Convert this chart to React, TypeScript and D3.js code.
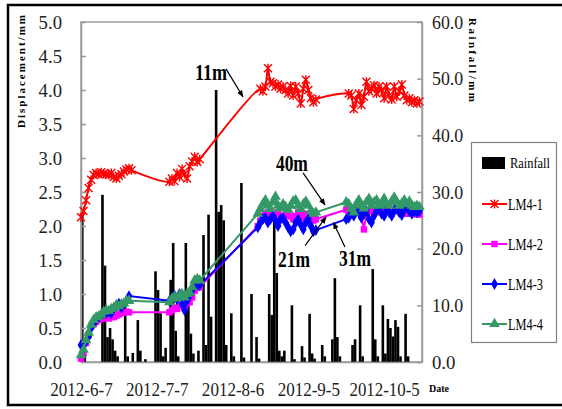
import React, { useEffect, useRef } from 'react';
import * as d3 from 'd3';

// time span of the chart (days counted from 2012-6-7)
const startDate = new Date(2012, 5, 7);
const endDate = new Date(2012, 9, 20);
const tickDates = ['2012-6-7', '2012-7-7', '2012-8-6', '2012-9-5', '2012-10-5'];
const dispTicks = [0, 0.5, 1, 1.5, 2, 2.5, 3, 3.5, 4, 4.5, 5];
const rainTicks = [0, 10, 20, 30, 40, 50, 60];

// daily rainfall (mm)
const rainDays = [0, 1, 8, 9, 10, 11, 12, 13, 14, 17, 18, 20, 22, 23, 25, 29, 30, 31, 32, 33, 35, 36, 37, 38, 41, 42, 43, 44, 46, 48, 49, 50, 51, 53, 54, 55, 56, 57, 59, 60, 63, 64, 67, 69, 70, 74, 75, 76, 77, 78, 79, 80, 83, 84, 87, 88, 90, 91, 92, 95, 96, 99, 100, 101, 102, 107, 108, 110, 111, 115, 116, 117, 119, 120, 121, 122, 123, 124, 125, 126, 128, 129];
const rainMm = [26, 1.5, 29.5, 17, 4.4, 6, 4, 2, 1, 10, 1, 1.6, 7.4, 2, 0.5, 16, 12.7, 8.6, 1, 2.5, 14.5, 21, 5.5, 1, 21, 11, 5, 1.5, 2, 22.4, 3, 26, 8, 48, 26.5, 27.7, 25, 3, 8.6, 1, 31.6, 0.8, 12, 4.4, 0.6, 12, 8.3, 26, 15.7, 2, 1, 2, 10, 0.5, 2.8, 0.8, 8.5, 1.5, 0.6, 3, 1, 4, 14.8, 4.4, 1, 3, 4, 10, 1, 16.4, 4, 1, 10, 1.5, 7.6, 6, 4.5, 7.4, 6.2, 1, 8.5, 1];

// displacement (mm)
const lm41Days = [...d3.range(0, 21), ...d3.range(35, 48), ...d3.range(71, 94), ...d3.range(106, 135)];
const lm41 = [
  2.13, 2.22, 2.38, 2.56, 2.68, 2.75, 2.78, 2.76, 2.79, 2.77, 2.76, 2.75, 2.78, 2.72, 2.70, 2.74, 2.76, 2.80, 2.83, 2.85, 2.82,
  2.65, 2.70, 2.66, 2.78, 2.72, 2.84, 2.76, 2.70, 2.88, 2.95, 3.02, 2.94, 2.98,
  4.02, 3.98, 4.05, 4.32, 4.12, 4.10, 4.05, 4.08, 4.02, 4.05, 4.00, 3.95, 4.06, 3.92, 4.05, 3.95, 3.80, 4.02, 4.15, 4.00, 3.88, 3.82, 3.86,
  3.95, 3.92, 3.72, 3.85, 3.95, 3.78, 3.90, 4.12, 3.98, 4.02, 4.07, 3.95, 4.05, 4.00, 3.88, 4.05, 3.92, 3.86, 4.05, 3.90, 3.98, 4.08, 3.92, 3.85, 3.88, 3.82, 3.85, 3.80, 3.83,
];
const gaugeDays = [...d3.range(0, 20), ...d3.range(35, 48), ...d3.range(70, 94), ...d3.range(105, 135)];
const lm42 = [
  0.05, 0.13, 0.28, 0.40, 0.52, 0.56, 0.59, 0.62, 0.64, 0.64, 0.65, 0.64, 0.66, 0.66, 0.68, 0.70, 0.72, 0.73, 0.74, 0.73,
  0.73, 0.76, 0.80, 0.78, 0.82, 0.84, 0.80, 0.86, 0.88, 0.95, 1.05, 1.09, 1.10,
  2.00, 2.08, 2.15, 2.18, 2.20, 2.16, 2.12, 2.18, 2.20, 2.15, 2.12, 2.16, 2.20, 2.14, 2.10, 2.15, 2.20, 2.16, 2.12, 2.18, 2.14, 2.10, 2.08, 2.10,
  2.24, 2.22, 2.18, 2.22, 2.26, 2.20, 2.15, 1.95, 2.18, 2.22, 2.25, 2.20, 2.24, 2.26, 2.20, 2.23, 2.28, 2.24, 2.20, 2.25, 2.28, 2.22, 2.26, 2.20, 2.18, 2.22, 2.20, 2.18, 2.17, 2.17,
];
const lm43 = [
  0.25, 0.25, 0.30, 0.37, 0.50, 0.57, 0.62, 0.66, 0.70, 0.72, 0.72, 0.74, 0.72, 0.78, 0.82, 0.86, 0.80, 0.85, 0.90, 0.97,
  0.90, 0.94, 0.98, 0.92, 1.00, 0.85, 0.76, 0.90, 0.98, 1.05, 1.16, 1.14, 1.13,
  1.98, 2.05, 2.10, 2.12, 2.05, 2.10, 2.15, 2.08, 2.00, 2.10, 2.12, 2.05, 1.98, 1.92, 1.95, 2.05, 2.10, 2.02, 1.95, 2.05, 2.10, 2.00, 1.92, 1.94,
  2.10, 2.12, 2.20, 2.15, 2.25, 2.20, 2.12, 2.18, 2.22, 2.10, 2.05, 2.15, 2.22, 2.26, 2.18, 2.15, 2.25, 2.20, 2.15, 2.22, 2.28, 2.20, 2.16, 2.24, 2.30, 2.22, 2.18, 2.22, 2.20, 2.22,
];
const lm44 = [
  0.10, 0.18, 0.32, 0.43, 0.55, 0.62, 0.66, 0.67, 0.70, 0.74, 0.76, 0.75, 0.78, 0.80, 0.84, 0.82, 0.85, 0.86, 0.90, 0.90,
  0.88, 0.93, 0.96, 0.94, 0.98, 1.00, 0.95, 1.00, 1.02, 1.10, 1.20, 1.22, 1.20,
  2.18, 2.25, 2.32, 2.38, 2.30, 2.25, 2.35, 2.43, 2.30, 2.26, 2.32, 2.28, 2.24, 2.30, 2.36, 2.38, 2.30, 2.25, 2.32, 2.36, 2.30, 2.22, 2.18, 2.20,
  2.35, 2.32, 2.25, 2.20, 2.32, 2.38, 2.30, 2.26, 2.35, 2.40, 2.30, 2.35, 2.38, 2.30, 2.33, 2.40, 2.32, 2.30, 2.36, 2.42, 2.35, 2.30, 2.33, 2.38, 2.32, 2.36, 2.30, 2.28, 2.30, 2.28,
];

// depth labels with arrows, in (day, displacement) units
const notes = [
  { label: '11m', at: [51.5, 4.15], from: [57.4, 4.31], to: [64.1, 3.9] },
  { label: '40m', at: [83.5, 2.81], from: [87.9, 2.78], to: [96.6, 2.31] },
  { label: '21m', at: [84.3, 1.4], from: [88.7, 1.71], to: [97.0, 2.13] },
  { label: '31m', at: [108.5, 1.41], from: [104.5, 1.69], to: [99.9, 2.05] },
];

const serif = "'Liberation Serif', 'Times New Roman', serif";
const starPath = 'M-4,-4L4,4M-4,4L4,-4M0,-4.5L0,4.5';

const App = () => {
  const ref = useRef<SVGSVGElement>(null);

  useEffect(() => {
    const svg = d3.select(ref.current);
    svg.selectAll('*').remove();

    const plot = { left: 81, right: 422, top: 22, bottom: 362 };
    const dayToDate = (d: number) => new Date(startDate.getTime() + d * 864e5);
    const parse = d3.timeParse('%Y-%m-%d');

    const x = d3.scaleTime().domain([startDate, endDate]).range([plot.left, plot.right]);
    const yL = d3.scaleLinear().domain([0, 5]).range([plot.bottom, plot.top]);
    const yR = d3.scaleLinear().domain([0, 60]).range([plot.bottom, plot.top]);

    svg.append('rect').attr('width', 562).attr('height', 409).attr('fill', '#fff');
    svg.append('rect')
      .attr('x', 8).attr('y', 5).attr('width', 600).attr('height', 400)
      .attr('fill', 'none').attr('stroke', '#000').attr('stroke-width', 2.5);

    const defs = svg.append('defs');
    defs.append('marker')
      .attr('id', 'arrow').attr('viewBox', '0 0 10 10').attr('refX', 9).attr('refY', 5)
      .attr('markerWidth', 7).attr('markerHeight', 7).attr('orient', 'auto')
      .attr('markerUnits', 'userSpaceOnUse')
      .append('path').attr('d', 'M0,1L10,5L0,9z').attr('fill', '#000');

    // plot frame
    svg.append('rect')
      .attr('x', plot.left).attr('y', plot.top)
      .attr('width', plot.right - plot.left).attr('height', plot.bottom - plot.top)
      .attr('fill', 'none').attr('stroke', '#9a9a9a').attr('stroke-width', 1.5);

    // rainfall bars
    svg.append('g')
      .selectAll('rect')
      .data(rainDays.map((d, i) => ({ d, v: rainMm[i] })))
      .join('rect')
      .attr('x', r => x(dayToDate(r.d + 0.5)) - 1.3)
      .attr('width', 2.6)
      .attr('y', r => yR(r.v))
      .attr('height', r => yR(0) - yR(r.v))
      .attr('fill', '#000');

    const styleTicks = (g: any) => {
      g.select('.domain').attr('stroke', '#9a9a9a').attr('stroke-width', 1.5);
      g.selectAll('.tick line').attr('stroke', '#9a9a9a').attr('stroke-width', 1.5);
      g.selectAll('.tick text')
        .attr('font-family', serif).attr('font-size', 19).attr('fill', '#222')
        .attr('lengthAdjust', 'spacingAndGlyphs')
        .attr('textLength', function (this: any) { return 7.8 * this.textContent.length; });
    };

    svg.append('g')
      .attr('transform', `translate(${plot.left},0)`)
      .call(d3.axisLeft(yL).tickValues(dispTicks).tickFormat(d3.format('.1f')).tickSizeInner(-5).tickSizeOuter(0).tickPadding(19))
      .call(styleTicks);

    svg.append('g')
      .attr('transform', `translate(${plot.right},0)`)
      .call(d3.axisRight(yR).tickValues(rainTicks).tickFormat(d3.format('.1f')).tickSizeInner(-5).tickSizeOuter(0).tickPadding(10))
      .call(styleTicks);

    const xAxis = svg.append('g')
      .attr('transform', `translate(0,${plot.bottom})`)
      .call(d3.axisBottom(x).tickValues(tickDates.map(t => parse(t.replace(/-(\d)(?=-|$)/g, '-0$1')) as Date))
        .tickFormat((_, i) => tickDates[i]).tickSize(0).tickSizeOuter(0))
      .call(styleTicks);
    xAxis.selectAll('.tick text').attr('y', 34).attr('dy', 0);

    // displacement series
    const series = [
      { name: 'LM4-1', days: lm41Days, values: lm41, color: '#ff0000', marker: 'star' },
      { name: 'LM4-2', days: gaugeDays, values: lm42, color: '#ff00ff', marker: 'square' },
      { name: 'LM4-3', days: gaugeDays, values: lm43, color: '#0000ff', marker: 'diamond' },
      { name: 'LM4-4', days: gaugeDays, values: lm44, color: '#339966', marker: 'triangle' },
    ];
    const markerPath = (m: string) =>
      m === 'star' ? starPath
        : m === 'square' ? d3.symbol().type(d3.symbolSquare).size(42)()
        : m === 'diamond' ? d3.symbol().type(d3.symbolDiamond).size(40)()
        : d3.symbol().type(d3.symbolTriangle).size(50)();
    const drawMarker = (sel: any, s: any) => {
      if (s.marker === 'star') {
        sel.attr('d', starPath).attr('fill', 'none').attr('stroke', s.color).attr('stroke-width', 1.4);
      } else {
        sel.attr('d', markerPath(s.marker)).attr('fill', s.color).attr('stroke', 'none');
      }
    };

    series.forEach(s => {
      const pts = s.days.map((d, i) => [x(dayToDate(d)), yL(s.values[i])] as [number, number]);
      const line = d3.line().curve(s.marker === 'star' ? d3.curveCatmullRom.alpha(0.5) : d3.curveLinear);
      const g = svg.append('g');
      g.append('path').attr('d', line(pts)).attr('fill', 'none').attr('stroke', s.color).attr('stroke-width', 2);
      g.selectAll('path.mk').data(pts).join('path').attr('class', 'mk')
        .attr('transform', p => `translate(${p[0]},${p[1]})`)
        .call(drawMarker, s);
    });

    // annotations
    const ng = svg.append('g');
    notes.forEach(n => {
      ng.append('text')
        .attr('x', x(dayToDate(n.at[0]))).attr('y', yL(n.at[1]))
        .attr('text-anchor', 'middle').attr('font-family', serif).attr('font-weight', 'bold')
        .attr('font-size', 24).attr('textLength', 32).attr('lengthAdjust', 'spacingAndGlyphs')
        .text(n.label);
      ng.append('line')
        .attr('x1', x(dayToDate(n.from[0]))).attr('y1', yL(n.from[1]))
        .attr('x2', x(dayToDate(n.to[0]))).attr('y2', yL(n.to[1]))
        .attr('stroke', '#000').attr('stroke-width', 1.2).attr('marker-end', 'url(#arrow)');
    });

    // axis titles
    svg.append('text')
      .attr('transform', 'translate(25,71.5) rotate(-90)')
      .attr('text-anchor', 'middle').attr('font-family', serif).attr('font-weight', 'bold')
      .attr('font-size', 11).attr('textLength', 113).text('Displacement/mm');
    svg.append('text')
      .attr('transform', 'translate(469,60) rotate(90)')
      .attr('text-anchor', 'middle').attr('font-family', serif).attr('font-weight', 'bold')
      .attr('font-size', 11).attr('textLength', 84).text('Rainfall/mm');
    svg.append('text')
      .attr('x', 429).attr('y', 392).attr('font-family', serif).attr('font-weight', 'bold')
      .attr('font-size', 11).attr('textLength', 20).attr('lengthAdjust', 'spacingAndGlyphs').text('Date');

    // legend
    const lg = svg.append('g');
    lg.append('rect').attr('x', 471.5).attr('y', 142.5).attr('width', 85).attr('height', 200)
      .attr('fill', '#fff').attr('stroke', '#808080').attr('stroke-width', 1.2);
    lg.append('rect').attr('x', 482).attr('y', 157).attr('width', 23).attr('height', 12).attr('fill', '#000');
    lg.append('text').attr('x', 510).attr('y', 168).attr('font-family', serif).attr('font-size', 14)
      .attr('textLength', 40).attr('lengthAdjust', 'spacingAndGlyphs').text('Rainfall');
    series.forEach((s, i) => {
      const cy = 204 + i * 40;
      lg.append('line').attr('x1', 482).attr('x2', 507).attr('y1', cy).attr('y2', cy)
        .attr('stroke', s.color).attr('stroke-width', 2);
      lg.append('path').attr('transform', `translate(494.5,${cy})`).call(drawMarker, s);
      lg.append('text').attr('x', 508).attr('y', cy + 6).attr('font-family', serif).attr('font-size', 17)
        .attr('textLength', 35).attr('lengthAdjust', 'spacingAndGlyphs').text(s.name);
    });
  }, []);

  return <svg ref={ref} width={562} height={409} style={{ position: 'absolute', left: 0, top: 0 }} />;
};

export default App;
